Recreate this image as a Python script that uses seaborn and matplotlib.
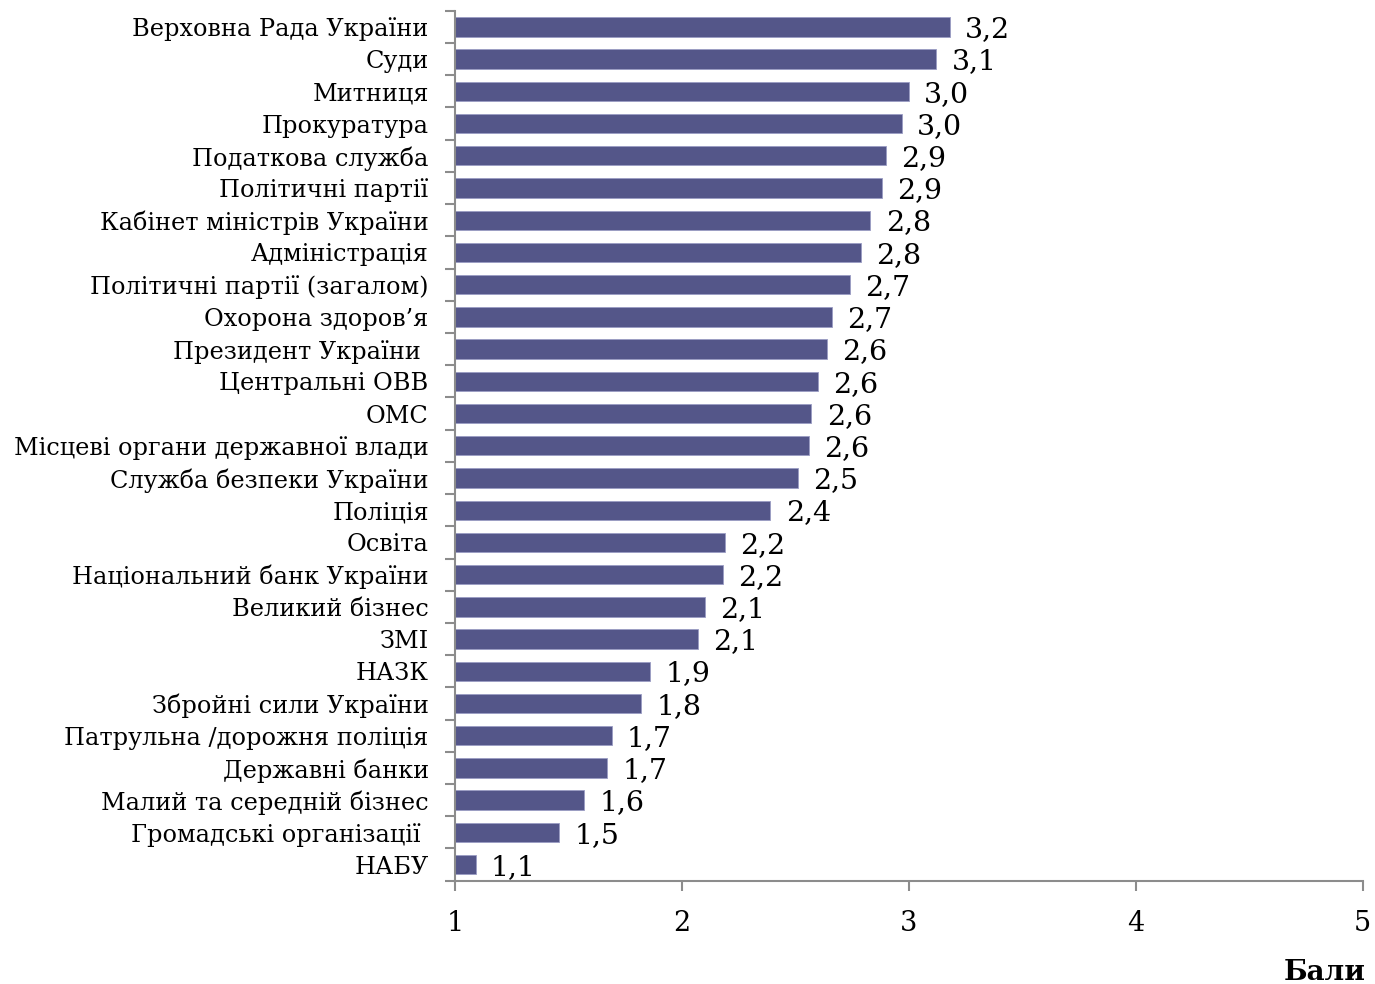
import matplotlib
matplotlib.use("Agg")
import matplotlib.pyplot as plt
import seaborn as sns
import pandas as pd
import numpy as np

sns.set_theme(style="white")
plt.rcParams["font.family"] = ["DejaVu Serif"]
plt.rcParams["text.color"] = "black"
plt.rcParams["xtick.color"] = "black"
plt.rcParams["ytick.color"] = "black"

institutions = [
    "Верховна Рада України", "Суди", "Митниця", "Прокуратура", "Податкова служба",
    "Політичні партії", "Кабінет міністрів України", "Адміністрація",
    "Політичні партії (загалом)", "Охорона здоров’я", "Президент України ",
    "Центральні ОВВ", "ОМС", "Місцеві органи державної влади",
    "Служба безпеки України", "Поліція", "Освіта", "Національний банк України",
    "Великий бізнес", "ЗМІ", "НАЗК", "Збройні сили України",
    "Патрульна /дорожня поліція", "Державні банки", "Малий та середній бізнес",
    "Громадські організації ", "НАБУ",
]
scores = [3.18, 3.12, 3.00, 2.97, 2.90, 2.88, 2.83, 2.79, 2.74, 2.66, 2.64,
          2.60, 2.57, 2.56, 2.51, 2.39, 2.19, 2.18, 2.10, 2.07, 1.86, 1.82,
          1.69, 1.67, 1.57, 1.46, 1.09]

df = pd.DataFrame({"inst": institutions, "score": scores})
df["len"] = df["score"] - 1

bar_color = "#545689"
axis_color = "#8c8c8c"

fig, ax = plt.subplots(figsize=(13.75, 9.84), dpi=100)
fig.subplots_adjust(left=0.331, right=0.991, top=0.989, bottom=0.105)

sns.barplot(data=df, x="len", y="inst", left=1, color=bar_color,
            width=0.6, edgecolor="#9a9cc4", linewidth=0.6, saturation=1, ax=ax)

for i, v in enumerate(scores):
    ax.annotate(f"{v:.1f}".replace(".", ","), xy=(v, i), xytext=(11, -2),
                textcoords="offset points", ha="left", va="center",
                fontsize=20.5, color="black")

ax.set_xlim(1, 5)
ax.set_ylim(len(institutions) - 0.5, -0.5)
ax.set_xticks([1, 2, 3, 4, 5])
ax.set_xticklabels(["1", "2", "3", "4", "5"], fontsize=19.5)
ax.tick_params(axis="x", length=7, width=1.5, color=axis_color, pad=14,
               bottom=True, direction="out", labelcolor="black")
ax.tick_params(axis="y", which="major", length=0, labelsize=17.3, pad=19,
               labelcolor="black")
ax.set_yticks(np.arange(-0.5, len(institutions), 1), minor=True)
ax.tick_params(axis="y", which="minor", length=7, width=1.5, color=axis_color,
               left=True, direction="out")

for side in ["top", "right"]:
    ax.spines[side].set_visible(False)
for side in ["left", "bottom"]:
    ax.spines[side].set_color(axis_color)
    ax.spines[side].set_linewidth(1.5)

ax.set_ylabel("")
ax.set_xlabel("Бали", fontsize=20, fontweight="bold", color="black")
ax.xaxis.set_label_coords(1.003, -0.09)
ax.xaxis.label.set_horizontalalignment("right")

fig.savefig("out.png", dpi=100)
